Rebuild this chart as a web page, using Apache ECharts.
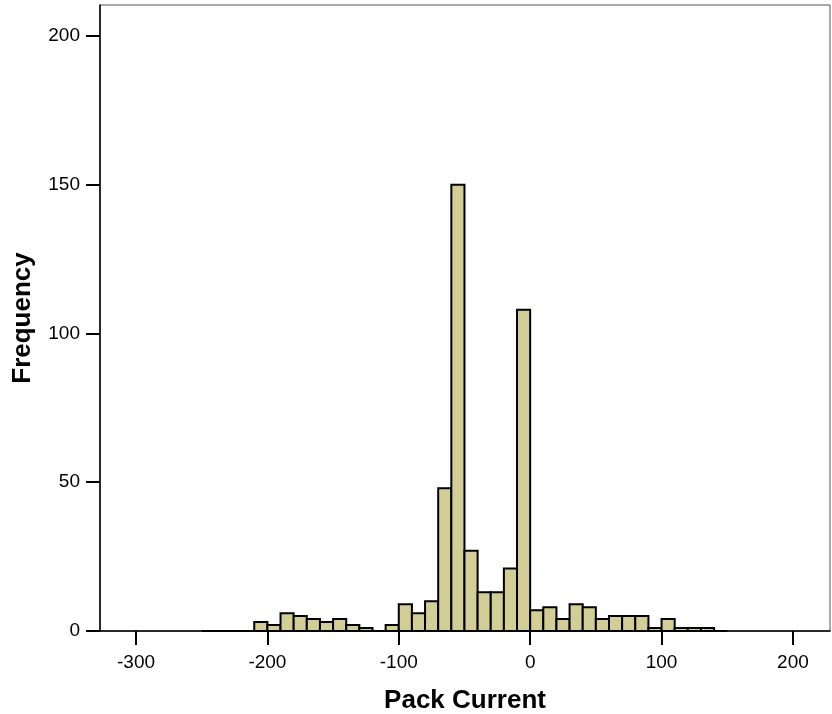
<!DOCTYPE html>
<html>
<head>
<meta charset="utf-8">
<script src="https://cdn.jsdelivr.net/npm/echarts@6/dist/echarts.min.js"></script>
<style>
  html, body { margin: 0; padding: 0; background: #fff; }
  #chart { width: 832px; height: 714px; }
</style>
</head>
<body>
<div id="chart"></div>
<script>
// bin left edges (width 10) and counts
var binStarts = [-250, -240, -230, -220, -210, -200, -190, -180, -170, -160,
  -150, -140, -130, -120, -110, -100, -90, -80, -70, -60,
  -50, -40, -30, -20, -10, 0, 10, 20, 30, 40,
  50, 60, 70, 80, 90, 100, 110, 120, 130, 140];
var counts = [0, 0, 0, 0, 3, 2, 6, 5, 4, 3,
  4, 2, 1, 0, 2, 9, 6, 10, 48, 150,
  27, 13, 13, 21, 108, 7, 8, 4, 9, 8,
  4, 5, 5, 5, 1, 4, 1, 1, 1, 0];
var binWidth = 10;
var xTicks = [-300, -200, -100, 0, 100, 200];
var yTicks = [0, 50, 100, 150, 200];

var font = "'Liberation Sans', Arial, sans-serif";
var chart = echarts.init(document.getElementById("chart"));

var data = binStarts.map(function (s, i) {
  return [s, counts[i]];
});

var option = {
  animation: false,
  grid: {
    left: 100,
    right: 2,
    top: 5,
    bottom: 83,
    outerBoundsMode: "none",
    show: true,
    borderColor: "#555",
    borderWidth: 1,
  },
  xAxis: {
    type: "value",
    min: -327.4,
    max: 228.2,
    name: "Pack Current",
    nameLocation: "middle",
    nameGap: 57,
    nameTextStyle: { fontFamily: font, fontSize: 26, fontWeight: "bold", color: "#000" },
    axisLine: { show: true, onZero: false, lineStyle: { color: "#000", width: 1.5 } },
    axisTick: { show: true, customValues: xTicks, length: 14, lineStyle: { color: "#000", width: 2 } },
    axisLabel: { customValues: xTicks, fontFamily: font, fontSize: 19, color: "#000", margin: 22 },
    splitLine: { show: false },
  },
  yAxis: {
    type: "value",
    min: 0,
    max: 210.4,
    name: "Frequency",
    nameLocation: "middle",
    nameGap: 64,
    nameTextStyle: { fontFamily: font, fontSize: 26, fontWeight: "bold", color: "#000" },
    axisLine: { show: true, onZero: false, lineStyle: { color: "#000", width: 1.5 } },
    axisTick: { show: true, customValues: yTicks, length: 14, lineStyle: { color: "#000", width: 2 } },
    axisLabel: { customValues: yTicks, fontFamily: font, fontSize: 19, color: "#000", margin: 20 },
    splitLine: { show: false },
  },
  series: [
    {
      type: "custom",
      data: data,
      renderItem: function (params, api) {
        var start = api.value(0);
        var p0 = api.coord([start, 0]);
        var p1 = api.coord([start + binWidth, api.value(1)]);
        return {
          type: "rect",
          shape: { x: p0[0], y: p1[1], width: p1[0] - p0[0], height: p0[1] - p1[1] },
          style: { fill: "#d3ce98", stroke: "#000", lineWidth: 2 },
        };
      },
    },
  ],
};
chart.setOption(option);
</script>
</body>
</html>
